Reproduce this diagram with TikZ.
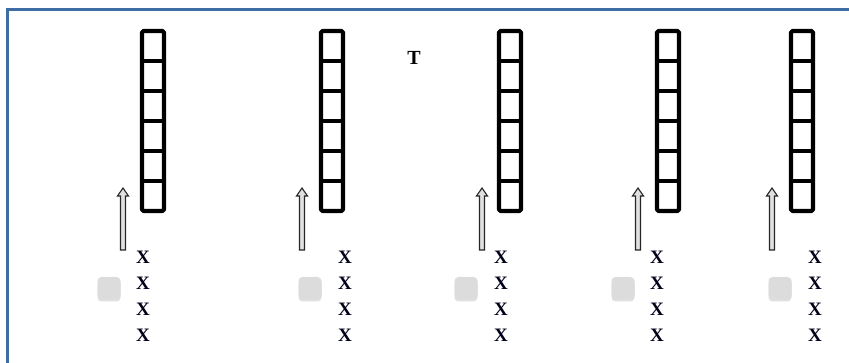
\documentclass[tikz,border=0pt]{standalone}
\usepackage{fontspec}
\setmainfont{Liberation Serif}
\usetikzlibrary{shadows}
\definecolor{framecol}{HTML}{3D6DA3}
\definecolor{padgray}{HTML}{DCDCDC}
\tikzset{
  towerline/.style={line width=4.2pt, black, line join=round},
  cellline/.style={line width=3.6pt, black},
  uparrow/.style={draw=black!85, line width=1.1pt, fill=black!12, line join=miter},
  pad/.style={rounded corners=4pt, fill=padgray, minimum width=23pt, minimum height=22pt, inner sep=0pt,
    drop shadow={opacity=0.25, shadow xshift=0pt, shadow yshift=-2.5pt}},
  xmark/.style={font=\fontsize{19}{19}\selectfont\bfseries, inner sep=0pt, text=black!90!blue},
  tmark/.style={font=\fontsize{20}{20}\selectfont\bfseries, inner sep=0pt}
}
\begin{document}
\begin{tikzpicture}[x=1pt,y=-1pt]
\useasboundingbox (0,0) rectangle (849,363);
\clip (0,0) rectangle (849,363);
% frame
\coordinate (fbl) at (7,380);
\coordinate (ftl) at (7,10);
\coordinate (ftr) at (870,10);
\draw[framecol, line width=3pt] (fbl) -- (ftl) -- (ftr);
% title
\node[tmark] (T) at (414,58) {T};
\foreach \i/\tx/\ax/\px/\xx in {1/153/123/109/143, 2/332/302/310/345, 3/510/482/466/501, 4/668/638/623/657, 5/802/772/780/815}{
  % tower
  \foreach \k in {1,...,5}{
    \draw[cellline] (\tx-11,31+30*\k) -- (\tx+11,31+30*\k);
  }
  \draw[towerline, rounded corners=1.5pt] (\tx-11,31) rectangle (\tx+11,211);
  \coordinate (tower\i) at (\tx,211);
  % arrow
  \draw[uparrow] (\ax-2.5,250) -- (\ax-2.5,196) -- (\ax-5.5,196) -- (\ax,188) -- (\ax+5.5,196) -- (\ax+2.5,196) -- (\ax+2.5,250) -- cycle;
  % pad
  \node[pad] (pad\i) at (\px,288) {};
  % X column
  \node[xmark] (x\i a) at (\xx,257) {X};
  \node[xmark] (x\i b) at (\xx,283) {X};
  \node[xmark] (x\i c) at (\xx,309) {X};
  \node[xmark] (x\i d) at (\xx,335) {X};
}
\end{tikzpicture}
\end{document}
